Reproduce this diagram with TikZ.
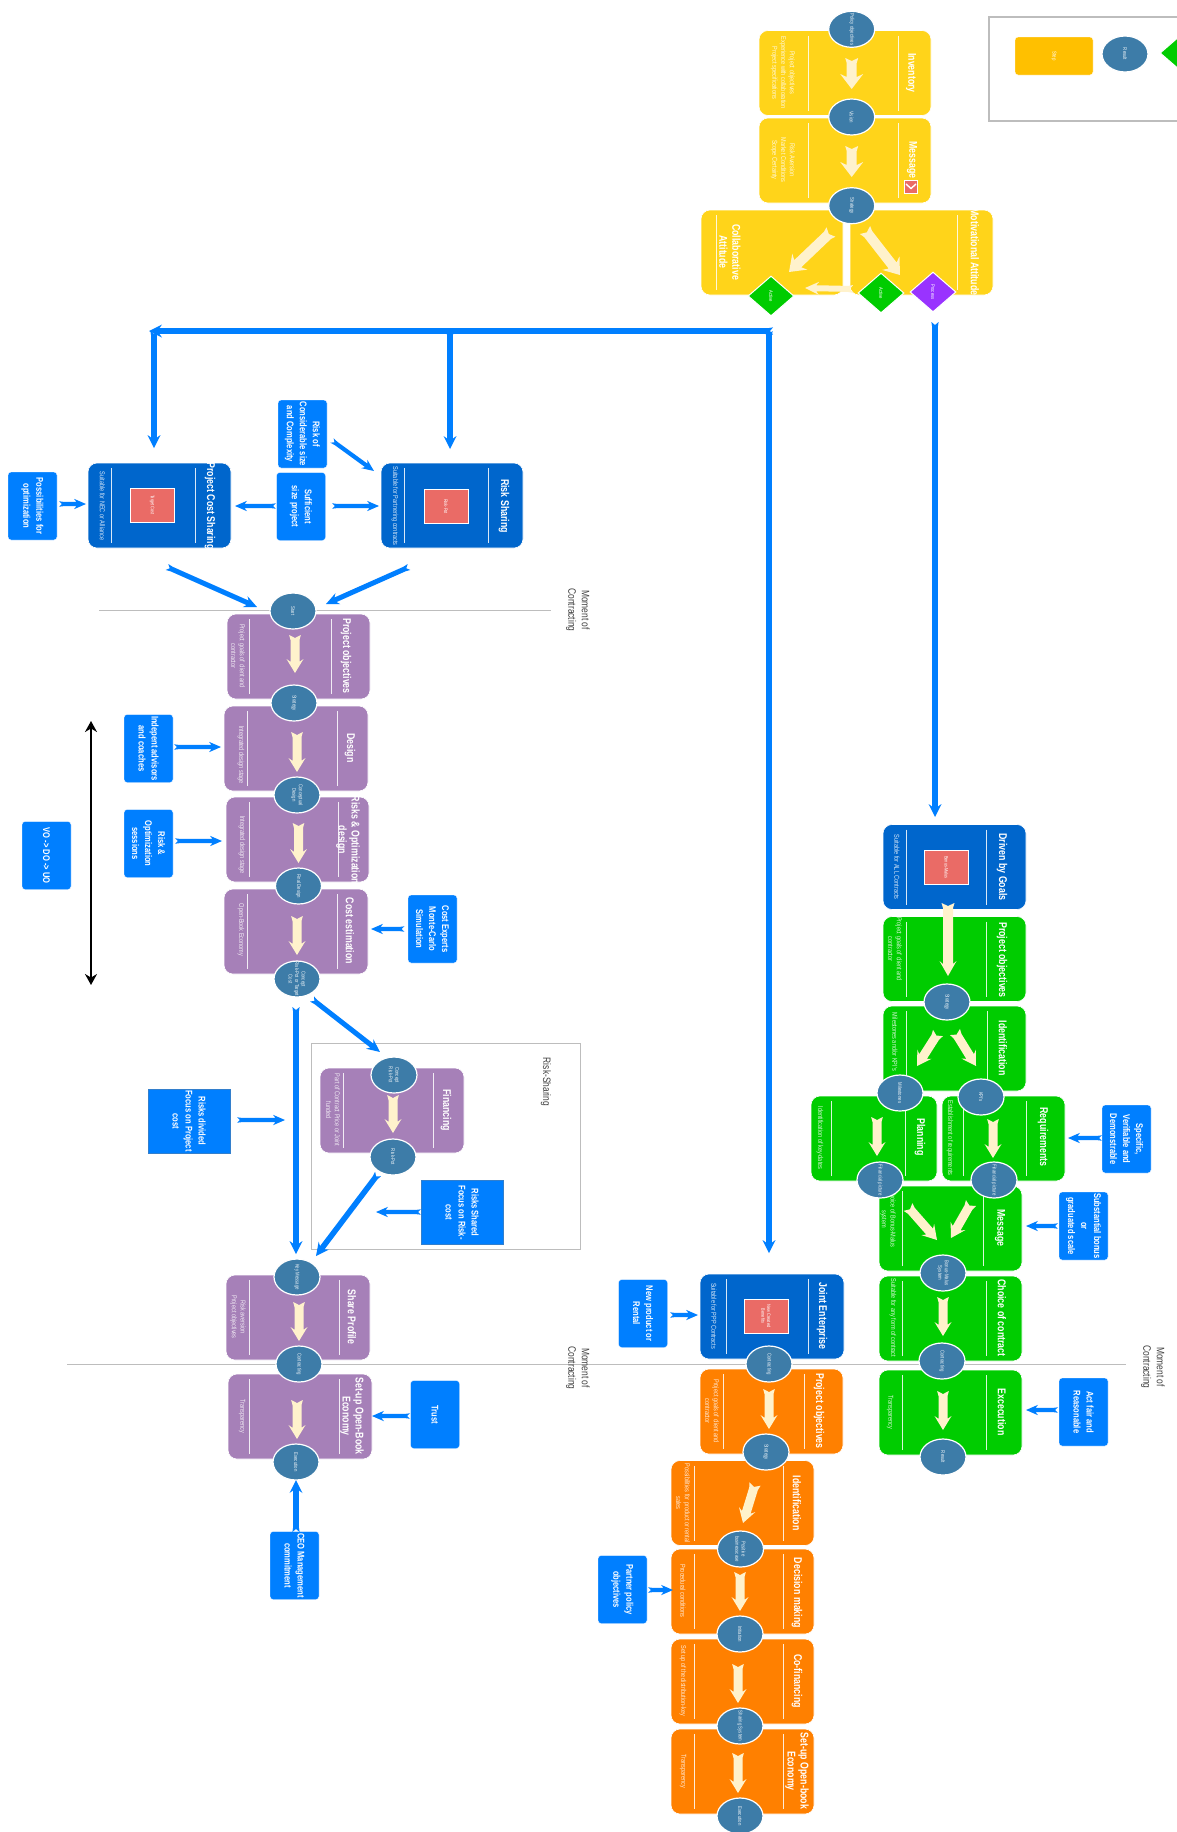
\documentclass[tikz,border=0pt]{standalone}
\usepackage{fontspec}
\setmainfont[FakeStretch=0.78]{Liberation Sans}
\usetikzlibrary{shapes.geometric,arrows.meta,calc}
\definecolor{Ye}{HTML}{FFD41A}
\definecolor{Pu}{HTML}{A680B8}
\definecolor{Gr}{HTML}{00CC00}
\definecolor{Or}{HTML}{FF8000}
\definecolor{Db}{HTML}{0066CC}
\definecolor{Bl}{HTML}{007FFF}
\definecolor{El}{HTML}{3D7CA8}
\definecolor{Rd}{HTML}{EA6B66}
\definecolor{Cr}{HTML}{FFF2CC}
\definecolor{Vi}{HTML}{9933FF}
\definecolor{Lg}{HTML}{FFC000}
\definecolor{Gy}{HTML}{BDBDBD}
\tikzset{
 stepbox/.style={shape=rectangle,rotate=-90,rounded corners=9pt,minimum width=85pt,draw=white,line width=.6pt,inner sep=0pt},
 divider/.style={draw=white,line width=.8pt,opacity=.85},
 titletext/.style={rotate=-90,align=center,text=white,inner sep=0pt,font=\bfseries\fontsize{11.3}{13}\selectfont},
 desctext/.style={rotate=-90,align=center,text=white,opacity=.85,inner sep=0pt,font=\fontsize{7.1}{8.7}\selectfont},
 ovalnode/.style={shape=ellipse,rotate=-90,fill=El,draw=white,line width=1.2pt,minimum width=36pt,minimum height=46pt,inner sep=0pt},
 ovaltext/.style={rotate=-90,align=center,text=white,opacity=.9,inner sep=0pt,font=\fontsize{5.5}{6.4}\selectfont},
 gemnode/.style={shape=diamond,rotate=-90,draw=white,line width=1pt,minimum width=40pt,minimum height=46pt,inner sep=0pt,text=white,font=\fontsize{5.3}{6}\selectfont},
 bluebox/.style={shape=rectangle,rotate=-90,fill=Bl,draw=white,line width=.4pt,rounded corners=3pt,minimum width=68pt,minimum height=49pt,inner sep=0pt,align=center,text=white,font=\bfseries\fontsize{9.7}{13}\selectfont},
 sharpbox/.style={bluebox,rounded corners=0pt,draw=Bl!60!gray,line width=.6pt,minimum width=64pt,minimum height=82pt},
 targetbox/.style={shape=rectangle,rotate=-90,fill=Rd,draw=white,line width=1pt,minimum width=34pt,minimum height=44pt,inner sep=0pt,align=center,text=white,font=\fontsize{5}{5.8}\selectfont},
 plaintext/.style={rotate=-90,align=center,text=black!75,inner sep=0pt,font=\fontsize{10.8}{13.5}\selectfont},
 frameline/.style={draw=Gy,line width=1pt},
}
\newcommand\fatarrow[6]{%
 \fill[#1] let \p1=($(#3)-(#2)$),\n1={atan2(\y1,\x1)},\n2={veclen(\x1,\y1)} in
 [shift={(#2)},rotate=\n1]
 (0pt,{1.3*#4pt}) -- (5pt,{#4pt}) -- ({\n2-0.8*#6pt},{#4pt}) -- ({\n2-#6pt},{#5pt}) -- (\n2,0pt)
 -- ({\n2-#6pt},{-#5pt}) -- ({\n2-0.8*#6pt},{-#4pt}) -- (5pt,{-#4pt}) -- (0pt,{-1.3*#4pt}) -- (3pt,0pt) -- cycle;}
\newcommand\conn[7]{\coordinate (#1s) at (#2);\coordinate (#1e) at (#3);\fatarrow{#4}{#1s}{#1e}{#5}{#6}{#7}}
\newcommand\creamarrow[3]{\conn{#1}{#2}{#3}{fill=Cr}{4.5}{8.5}{14}}
\newcommand\yelarrow[3]{\conn{#1}{#2}{#3}{fill=Cr}{5}{11.5}{15}}
\newcommand\bluearrow[3]{\conn{#1}{#2}{#3}{fill=Bl}{2.1}{5.2}{12}}
\newcommand\bluediag[3]{\conn{#1}{#2}{#3}{fill=Bl}{2.5}{6}{13}}
\newcommand\bluelong[3]{\conn{#1}{#2}{#3}{fill=Bl}{2.8}{6.5}{13}}
\newcommand\block[5]{\node[stepbox,fill=#2,minimum height=#5pt] (#1) at (#3,#4) {};}
\newcommand\dvd[2]{\draw[divider] (#1,#2-37.5) -- (#1,#2+37.5);}
\newcommand\ttl[3]{\node[titletext] (#1) at (#2) {#3};}
\newcommand\dsc[3]{\node[desctext] (#1) at (#2) {#3};}
\newcommand\ovl[3]{\node[ovalnode] (#1) at (#2) {};\node[ovaltext] (#1-l) at (#2) {#3};}
\newcommand\bbx[3]{\node[bluebox] (#1) at (#2) {#3};}
\begin{document}
\begin{tikzpicture}[x=1pt,y=-1pt]
\fill[white] (0,0) rectangle (1177,1832);
\useasboundingbox (0,0) rectangle (1177,1832);

% frames and rules
\draw[frameline,line width=1.2pt] (1190,17) -- (989,17) -- (989,121) -- (1190,121);
\draw[frameline,line width=.9pt] (311,1043) rectangle (580,1249);
\coordinate (ma) at (99,610);\coordinate (mb) at (551,610);\draw[frameline] (ma) -- (mb);
\coordinate (mc) at (67,1364);\coordinate (md) at (1126,1364);\draw[frameline] (mc) -- (md);

% legend
\node[shape=rectangle,rotate=-90,fill=Lg,draw=white,rounded corners=3pt,minimum width=38pt,minimum height=78pt,inner sep=0pt,text=white,font=\fontsize{5.5}{6.5}\selectfont] (legstep) at (1054,56) {Step};
\ovl{legres}{1125,54}{Result}
\node[gemnode,fill=Gr] (legact) at (1183,53) {};

% yellow group
\block{inv}{Ye}{845}{73}{172}
\block{msg}{Ye}{845}{160.5}{172}
\block{col}{Ye}{772}{252.5}{142}
\block{mot}{Ye}{921.5}{252.5}{143}
\dvd{808}{73}\dvd{898}{73}\dvd{808}{160.5}\dvd{898}{160.5}\dvd{716}{252.5}\dvd{957}{252.5}
\ttl{inv-t}{911,73}{Inventory}
\ttl{msg-t}{912,160}{Message}
\ttl{col-t}{730,252}{Collaborative\\Attitude}
\ttl{mot-t}{975,252}{Motivational Attitude}
\dsc{inv-d}{783,73}{Project objectives\\Experience with collaboration\\Project specifications}
\dsc{msg-d}{783,160}{Risk Aversion\\Market Conditions\\Scope Certainty}
\node[shape=rectangle,fill=Rd,draw=white,line width=.5pt,minimum width=13pt,minimum height=13pt,inner sep=0pt] (icon) at (911,187) {};
\draw[white,line width=1.4pt] ($(icon.center)+(-5,-3)$) -- ($(icon.center)+(0,1.5)$) -- ($(icon.center)+(5,-3)$);
\yelarrow{ya}{851.7,58}{851.7,89}
\yelarrow{yb}{851.7,146}{851.7,177}
\conn{yc}{831,232}{789,272}{fill=Cr}{5}{11}{15}
\conn{yd}{865,230}{900,275}{fill=Cr}{5}{11}{15}
\coordinate (ye) at (848,224);\coordinate (yf) at (848,288);
\draw[white,line width=4pt] (ye) -- (yf);
\conn{yg}{853,289}{805,288}{fill=Cr}{3}{6.5}{14}
\ovl{policy}{851.7,29.3}{Policy objectives}
\ovl{vision}{851.7,117}{Vision}
\ovl{strat}{851.7,205.7}{Strategy}
\node[gemnode,fill=Gr] (act1) at (771,296) {Active};
\node[gemnode,fill=Gr] (act2) at (881,293) {Active};
\node[gemnode,fill=Vi] (proc) at (933,292) {Process};

% blue connectors from the top group
\bluelong{ha}{773,331}{149,331}
\bluelong{va}{154,331}{154,448}
\bluelong{vb}{450,331}{450,449}
\bluelong{vc}{769,331}{769,1253}
\bluelong{vd}{935,322}{935,817}

% blue type blocks
\block{pcs}{Db}{159.5}{505.5}{143}
\block{rs}{Db}{452}{505.5}{142}
\dvd{111}{505.5}\dvd{195}{505.5}\dvd{404}{505.5}\dvd{488}{505.5}
\ttl{pcs-t}{210,506}{Project Cost Sharing}
\ttl{rs-t}{504,506}{Risk Sharing}
\dsc{pcs-d}{102.5,506}{Suitable for NEC or Alliance}
\dsc{rs-d}{395,506}{Suitable for Partnering contracts}
\node[targetbox] (tc) at (152,505) {Target Cost};
\node[targetbox] (rp) at (446,506.5) {Risk-Pot};
\bbx{riskof}{302.5,434}{Risk of\\Considerable size\\and Complexity}
\bbx{suff}{301,506.5}{Sufficient\\size project}
\bbx{poss}{32.5,506}{Possibilities for\\optimization}
\bluearrow{pa}{59,504}{86,504}
\bluearrow{pb}{276,506}{235,506}
\bluearrow{pc}{332,506}{379,506}
\bluearrow{pd}{332,440.5}{374,471}
\bluediag{pe}{167,567}{257,607}
\bluediag{pf}{409,567}{326,604}

% purple column
\block{p1}{Pu}{298.5}{656.5}{143}
\block{p2}{Pu}{296}{748.5}{144}
\block{p3}{Pu}{297.5}{839.5}{143}
\block{p4}{Pu}{296}{931.5}{144}
\dvd{249.5}{656.5}\dvd{331}{656.5}\dvd{247}{748.5}\dvd{337}{748.5}\dvd{249}{839.5}\dvd{338}{839.5}\dvd{247}{931.5}\dvd{337}{931.5}
\ttl{p1-t}{346,656}{Project objectives}
\ttl{p2-t}{350,748}{Design}
\ttl{p3-t}{348,840}{Risks \& Optimization\\design}
\ttl{p4-t}{350,931}{Cost estimation}
\dsc{p1-d}{238,656}{Project goals of client and\\contractor}
\dsc{p2-d}{241,755}{Integrated design stage}
\dsc{p3-d}{242,845}{Integrated design stage}
\dsc{p4-d}{241,930}{Open-Book Economy}
\creamarrow{ca}{295,635}{295,673}
\creamarrow{cb}{297,732}{297,772}
\creamarrow{cc}{298.5,823}{298.5,863}
\creamarrow{cd}{297,916}{297,955}
\ovl{start}{293,611}{Start}
\ovl{pstrat}{294,703}{Strategy}
\ovl{cdes}{297,795}{Conceptual\\Design}
\ovl{fdes}{298.5,886}{Final Design}
\ovl{crp}{297,979}{Concept\\Risk-Pot or Target\\Cost}
\bbx{indep}{148.5,748.5}{Indepent advisors\\and coaches}
\bbx{ropt}{148.5,843.5}{Risk \&\\Optimization\\sessions}
\bbx{vo}{46.5,855.5}{VO -> DO -> UO}
\bbx{cexp}{432.5,929}{Cost Experts\\Monte-Carlo\\Simulation}
\bluearrow{qa}{174,747}{221,747}
\bluearrow{qb}{175,841}{222,841}
\bluearrow{qc}{404.5,929}{371,929}
\coordinate (da) at (91,721);\coordinate (db) at (91,985);
\draw[black,line width=2.4pt,{Stealth[length=11pt,width=12pt]}-{Stealth[length=11pt,width=12pt]}] (da) -- (db);

% risk sharing frame
\bluediag{ra}{312,999}{380,1052}
\bluelong{rb}{296,1007}{296,1254}
\block{fin}{Pu}{392}{1110.5}{144}
\dvd{343}{1110.5}\dvd{433}{1110.5}
\ttl{fin-t}{446,1110}{Financing}
\dsc{fin-d}{333,1110}{Part of Contract Price or Joint\\funded}
\creamarrow{rc}{393,1095}{393,1133}
\ovl{crp2}{394,1075}{Concept\\Risk-Pot}
\ovl{rpot}{393,1157}{Risk-Pot}
\bluelong{rd}{378,1174}{316,1256}
\node[sharpbox] (div) at (189,1121) {Risks divided\\Focus on Project\\cost};
\node[sharpbox] (shr) at (462,1212.5) {Risks Shared\\Focus on Risk-\\cost};
\bluearrow{re}{237,1120}{285,1120}
\bluearrow{rf}{421,1212}{376,1212}

% share profile
\block{sp}{Pu}{298}{1317.5}{144}
\block{su}{Pu}{300}{1416.5}{144}
\dvd{249}{1317.5}\dvd{339}{1317.5}\dvd{249}{1416.5}\dvd{339}{1416.5}
\ttl{sp-t}{352,1317}{Share Profile}
\ttl{su-t}{352,1416}{Set-up Open-Book\\Economy}
\dsc{sp-d}{238,1317}{Risk aversion\\Project objectives}
\dsc{su-d}{242,1416}{Transparency}
\creamarrow{sa}{299,1302}{299,1341}
\creamarrow{sb}{297,1400}{297,1439}
\ovl{key}{297,1277}{Key Message}
\ovl{contr}{299,1364}{Contracting}
\ovl{exe}{296,1462}{Execution}
\bbx{trust}{435,1414.5}{Trust}
\bbx{ceo}{294.5,1565.5}{CEO Management\\commitment}
\bluearrow{sc}{410,1416}{372,1416}
\bluelong{sd}{296,1532}{296,1480}

% orange column
\block{je}{Db}{772}{1316.5}{144}
\dvd{726}{1316.5}\dvd{808}{1316.5}
\ttl{je-t}{822,1316}{Joint Enterprise}
\dsc{je-d}{714,1316}{Suitable for PPP Contracts}
\node[targetbox] (nb) at (766,1316) {New Created\\Benefits};
\bbx{newp}{643,1313.5}{New product or\\Rental}
\bluearrow{oa}{670,1315}{698,1315}
\block{o1}{Or}{771.5}{1411.5}{143}
\block{o2}{Or}{742.5}{1503}{143}
\block{o3}{Or}{742.5}{1591.5}{143}
\block{o4}{Or}{742.5}{1681.5}{143}
\block{o5}{Or}{742.5}{1771.5}{143}
\dvd{723}{1411.5}\dvd{804}{1411.5}\dvd{694}{1503}\dvd{783}{1503}\dvd{694}{1591.5}\dvd{783}{1591.5}\dvd{694}{1681.5}\dvd{783}{1681.5}\dvd{694}{1771.5}\dvd{783}{1771.5}
\ttl{o1-t}{819,1411}{Project objectives}
\ttl{o2-t}{797,1503}{Identification}
\ttl{o3-t}{797,1593}{Decision making}
\ttl{o4-t}{797,1681}{Co-financing}
\ttl{o5-t}{797,1771}{Set-up Open-book\\Economy}
\dsc{o1-d}{712,1411}{Project goals of client and\\contractor}
\dsc{o2-d}{683,1503}{Possibilities for product or rental\\sales}
\dsc{o3-d}{683,1591}{Procedural conditions}
\dsc{o4-d}{683,1681}{Set up of the distribution-key}
\dsc{o5-d}{683,1771}{Transparency}
\creamarrow{ob}{769,1389}{769,1429}
\creamarrow{oc}{755,1484}{743,1523}
\creamarrow{od}{740,1572}{740,1611}
\creamarrow{oe}{738,1664}{738,1703}
\creamarrow{of}{738,1753}{738,1793}
\ovl{ocon}{769,1364}{Contracting}
\ovl{ostr}{766,1452}{Strategy}
\ovl{opos}{740.5,1549}{Positive\\businesscase}
\ovl{oini}{740,1634}{Initiation}
\ovl{oshr}{740,1726}{Sharing System}
\ovl{oexe}{740,1816}{Execution}
\bbx{partner}{622.5,1589.5}{Partner policy\\objectives}
\bluearrow{og}{648,1590}{673,1590}

% green column
\block{dg}{Db}{954.5}{867}{143}
\dvd{906}{867}\dvd{986}{867}
\ttl{dg-t}{1002,867}{Driven by Goals}
\dsc{dg-d}{897,867}{Suitable for ALL Contracts}
\node[targetbox] (bm) at (946.5,867.5) {Bonus-Malus};
\block{g1}{Gr}{954.5}{959}{143}
\block{g2}{Gr}{954.5}{1048.5}{143}
\block{g3}{Gr}{874}{1138.5}{126}
\block{g4}{Gr}{1003.5}{1138.5}{123}
\block{g5}{Gr}{950.5}{1228.5}{143}
\block{g6}{Gr}{950.5}{1318.5}{143}
\block{g7}{Gr}{950.5}{1412.5}{143}
\dvd{906}{959}\dvd{986}{959}\dvd{906}{1048.5}\dvd{987}{1048.5}\dvd{831}{1138.5}\dvd{905}{1138.5}\dvd{963}{1138.5}\dvd{1026}{1138.5}\dvd{902}{1228.5}\dvd{983}{1228.5}\dvd{902}{1318.5}\dvd{986}{1318.5}\dvd{902}{1412.5}\dvd{986}{1412.5}
\ttl{g1-t}{1002,960}{Project objectives}
\ttl{g2-t}{1003,1048}{Identification}
\ttl{g3-t}{920,1137}{Planning}
\ttl{g4-t}{1043,1137}{Requirements}
\ttl{g5-t}{1000,1228}{Message}
\ttl{g6-t}{1002,1318}{Choice of contract}
\ttl{g7-t}{1002,1412}{Excecution}
\dsc{g1-d}{895,949}{Project goals of client and\\contractor}
\dsc{g2-d}{895,1042}{Milestones and/or KPI's}
\dsc{g3-d}{820,1138}{Identification of key-dates}
\dsc{g4-d}{950,1138}{Establishment of requirements}
\dsc{g5-d}{888,1219}{Choice of Bonus-Malus\\system}
\dsc{g6-d}{893,1318}{Suitable for any form of contract}
\dsc{g7-d}{890,1412}{Transparency}
\conn{ga}{948,903}{948,976}{fill=Cr}{5}{8.5}{15}
\creamarrow{gb}{938,1033}{917,1066}
\creamarrow{gc}{955,1032}{976,1066}
\creamarrow{gd}{877,1117}{877,1156}
\creamarrow{ge}{993,1119}{993,1158}
\creamarrow{gf}{908,1207}{937,1240}
\creamarrow{gg}{971,1203}{951,1238}
\creamarrow{gh}{943,1297}{943,1336}
\creamarrow{gi}{943,1391}{943,1430}
\ovl{gstr}{947,1002}{Strategy}
\ovl{gmil}{900,1093}{Milestones}
\ovl{gkpi}{981,1097}{KPI's}
\ovl{gfp1}{880,1180}{Financial picture}
\ovl{gfp2}{994,1180}{Financial picture}
\ovl{gbm}{943,1273}{Bonus-Malus\\System}
\ovl{gcon}{942,1361}{Contracting}
\ovl{gres}{943,1457}{Result}
\bbx{spec}{1126.5,1139}{Specific,\\Verifiable and\\Demonstrable}
\bbx{subst}{1083.5,1226}{Substantial bonus\\or\\graduated scale}
\bbx{actf}{1083.5,1412}{Act fair and\\Reasonable}
\bluearrow{gj}{1102,1138}{1068,1138}
\bluearrow{gk}{1058,1226}{1026,1226}
\bluearrow{gl}{1058,1410}{1026,1410}

% labels
\node[plaintext] (m1) at (578,610) {Moment of\\Contracting};
\node[plaintext] (m2) at (578,1368) {Moment of\\Contracting};
\node[plaintext] (m3) at (1153,1367) {Moment of\\Contracting};
\node[plaintext] (rsl) at (546,1082) {Risk-Sharing};
\end{tikzpicture}
\end{document}
